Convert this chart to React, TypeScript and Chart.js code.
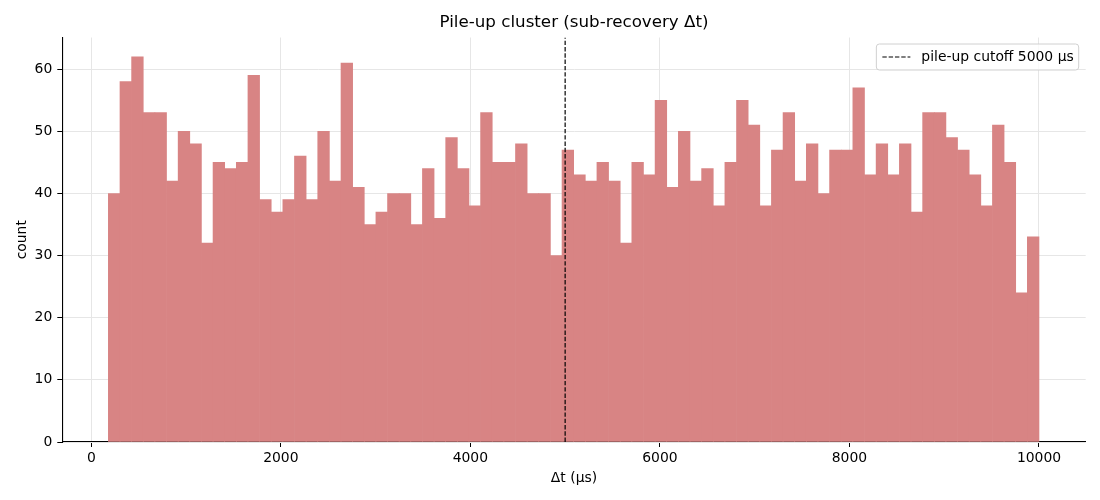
import { useEffect, useRef } from "react";
import { Chart, registerables } from "chart.js";
Chart.register(...registerables);

// histogram edges and counts (80 equal bins)
const binStart = 180;
const binEnd = 10000;
const counts = [
  40, 58, 62, 53, 53, 42, 50, 48, 32, 45, 44, 45, 59, 39, 37, 39, 46, 39, 50, 42,
  61, 41, 35, 37, 40, 40, 35, 44, 36, 49, 44, 38, 53, 45, 45, 48, 40, 40, 30, 47,
  43, 42, 45, 42, 32, 45, 43, 55, 41, 50, 42, 44, 38, 45, 55, 51, 38, 47, 53, 42,
  48, 40, 47, 47, 57, 43, 48, 43, 48, 37, 53, 53, 49, 47, 43, 38, 51, 45, 24, 33,
];
const cutoff = 5000;
const xTicks = [0, 2000, 4000, 6000, 8000, 10000];
const yTicks = [0, 10, 20, 30, 40, 50, 60];
const xRange = [-306, 10493];
const yRange = [0, 65.1];

const title = "Pile-up cluster (sub-recovery Δt)";
const xLabel = "Δt (μs)";
const yLabel = "count";
const cutoffLabel = `pile-up cutoff ${cutoff} μs`;

const FONT = "'DejaVu Sans', sans-serif";

const decor = {
  id: "decor",
  afterDraw(chart: Chart) {
    const { ctx, chartArea: a } = chart;
    ctx.save();
    ctx.fillStyle = "#000";
    ctx.textAlign = "center";
    ctx.textBaseline = "middle";
    ctx.font = `16.7px ${FONT}`;
    ctx.fillText(title, (a.left + a.right) / 2, 23);
    ctx.font = `13.9px ${FONT}`;
    ctx.fillText(xLabel, (a.left + a.right) / 2, 478);
    ctx.translate(22, (a.top + a.bottom) / 2);
    ctx.rotate(-Math.PI / 2);
    ctx.fillText(yLabel, 0, 0);
    ctx.restore();

    // legend box, upper right inside the axes
    ctx.save();
    ctx.font = `13.9px ${FONT}`;
    const tw = ctx.measureText(cutoffLabel).width;
    const w = tw + 50, h = 26;
    const x = a.right - 7 - w, y = a.top + 6.5;
    ctx.beginPath();
    ctx.roundRect(x, y, w, h, 3);
    ctx.fillStyle = "rgba(255,255,255,0.8)";
    ctx.fill();
    ctx.strokeStyle = "#d0d0d0";
    ctx.lineWidth = 1;
    ctx.stroke();
    ctx.beginPath();
    ctx.setLineDash([4.4, 1.9]);
    ctx.strokeStyle = "#000";
    ctx.lineWidth = 1.2;
    ctx.moveTo(x + 6, y + h / 2);
    ctx.lineTo(x + 34, y + h / 2);
    ctx.stroke();
    ctx.setLineDash([]);
    ctx.fillStyle = "#000";
    ctx.textAlign = "left";
    ctx.textBaseline = "middle";
    ctx.fillText(cutoffLabel, x + 45, y + h / 2 + 0.5);
    ctx.restore();
  },
};

export default function App() {
  const ref = useRef<HTMLCanvasElement>(null);
  useEffect(() => {
    if (!ref.current) return;
    const width = (binEnd - binStart) / counts.length;
    const bars = counts.map((c, i) => ({ x: binStart + (i + 0.5) * width, y: c }));
    const tickFont = { family: FONT, size: 13.9 };
    const chart = new Chart(ref.current, {
      type: "bar",
      data: {
        datasets: [
          {
            type: "bar",
            data: bars,
            backgroundColor: "#d88484",
            borderWidth: 0,
            barPercentage: 1,
            categoryPercentage: 1,
            order: 1,
          } as any,
          {
            type: "line",
            data: [{ x: cutoff, y: yRange[0] }, { x: cutoff, y: yRange[1] }],
            borderColor: "#000",
            borderWidth: 1.2,
            borderDash: [4.4, 1.9],
            pointRadius: 0,
            order: 0,
          } as any,
        ],
      },
      options: {
        animation: false,
        responsive: false,
        layout: { padding: { top: 37.5, right: 14.3, left: 0, bottom: 0 } },
        plugins: { legend: { display: false }, tooltip: { enabled: false }, title: { display: false } },
        scales: {
          x: {
            type: "linear",
            min: xRange[0],
            max: xRange[1],
            offset: false,
            afterBuildTicks: (s: any) => { s.ticks = xTicks.map((v) => ({ value: v })); },
            afterFit: (s: any) => { s.height = 58; },
            ticks: { font: tickFont, color: "#000", padding: 3, maxRotation: 0, callback: (v: any) => String(v) },
            grid: { offset: false, color: "#e6e6e6", lineWidth: 1, tickColor: "#000", tickLength: 5, tickWidth: 1 },
            border: { color: "#000", width: 1.1 },
          },
          y: {
            type: "linear",
            min: yRange[0],
            max: yRange[1],
            afterBuildTicks: (s: any) => { s.ticks = yTicks.map((v) => ({ value: v })); },
            afterFit: (s: any) => { s.width = 62.3; },
            ticks: { font: tickFont, color: "#000", padding: 5, callback: (v: any) => String(v) },
            grid: { color: "#e6e6e6", lineWidth: 1, tickColor: "#000", tickLength: 5, tickWidth: 1 },
            border: { color: "#000", width: 1.1 },
          },
        },
      },
      plugins: [decor],
    });
    return () => chart.destroy();
  }, []);
  return (
    <div style={{ position: "absolute", left: 0, top: 0, width: 1100, height: 500, background: "#fff" }}>
      <canvas ref={ref} width={1100} height={500} style={{ width: 1100, height: 500 }} />
    </div>
  );
}
